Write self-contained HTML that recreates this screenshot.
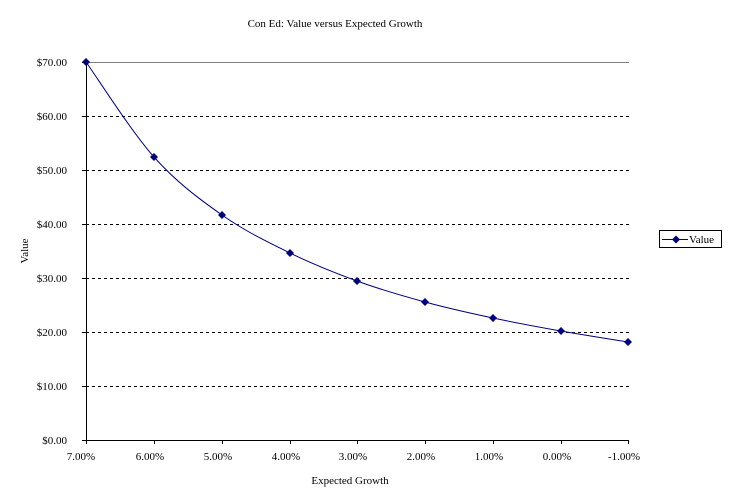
<!DOCTYPE html>
<html><head><style>body{margin:0;background:#fff}svg{display:block}text{font-family:"Liberation Serif",serif;font-size:11px;fill:#000}</style></head><body>
<svg width="731" height="500" xmlns="http://www.w3.org/2000/svg">
<text x="335" y="27" text-anchor="middle">Con Ed: Value versus Expected Growth</text>
<g stroke="#000" stroke-width="1" stroke-dasharray="3,3">
<line x1="86" y1="386.5" x2="629" y2="386.5"/><line x1="86" y1="332.5" x2="629" y2="332.5"/><line x1="86" y1="278.5" x2="629" y2="278.5"/><line x1="86" y1="224.5" x2="629" y2="224.5"/><line x1="86" y1="170.5" x2="629" y2="170.5"/><line x1="86" y1="116.5" x2="629" y2="116.5"/>
</g>
<line x1="86" y1="62.5" x2="629" y2="62.5" stroke="#808080"/>
<g stroke="#000" stroke-width="1">
<line x1="86.5" y1="62" x2="86.5" y2="440"/><line x1="82" y1="440.5" x2="629" y2="440.5"/>
<line x1="82" y1="62.5" x2="86" y2="62.5"/><line x1="82" y1="116.5" x2="86" y2="116.5"/><line x1="82" y1="170.5" x2="86" y2="170.5"/><line x1="82" y1="224.5" x2="86" y2="224.5"/><line x1="82" y1="278.5" x2="86" y2="278.5"/><line x1="82" y1="332.5" x2="86" y2="332.5"/><line x1="82" y1="386.5" x2="86" y2="386.5"/>
<line x1="86.5" y1="440" x2="86.5" y2="444"/><line x1="154.5" y1="440" x2="154.5" y2="444"/><line x1="222.5" y1="440" x2="222.5" y2="444"/><line x1="290.5" y1="440" x2="290.5" y2="444"/><line x1="357.5" y1="440" x2="357.5" y2="444"/><line x1="425.5" y1="440" x2="425.5" y2="444"/><line x1="493.5" y1="440" x2="493.5" y2="444"/><line x1="561.5" y1="440" x2="561.5" y2="444"/><line x1="628.5" y1="440" x2="628.5" y2="444"/>
</g>
<g text-anchor="end">
<text x="67" y="444">$0.00</text><text x="67" y="390">$10.00</text><text x="67" y="336">$20.00</text><text x="67" y="282">$30.00</text><text x="67" y="228">$40.00</text><text x="67" y="174">$50.00</text><text x="67" y="120">$60.00</text><text x="67" y="66">$70.00</text>
</g>
<g text-anchor="middle">
<text x="81" y="460">7.00%</text><text x="150" y="460">6.00%</text><text x="218" y="460">5.00%</text><text x="286" y="460">4.00%</text><text x="353" y="460">3.00%</text><text x="421" y="460">2.00%</text><text x="489" y="460">1.00%</text><text x="557" y="460">0.00%</text><text x="624" y="460">-1.00%</text>
<text x="350" y="484">Expected Growth</text>
</g>
<text transform="translate(28,251) rotate(-90)" text-anchor="middle">Value</text>
<path fill="none" stroke="#000080" stroke-width="1" d="M86 62C97.3 77.8 131.3 131.5 154 157C176.7 182.5 199.3 199 222 215C244.7 231 267.5 242 290 253C312.5 264 334.5 272.8 357 281C379.5 289.2 402.3 295.8 425 302C447.7 308.2 470.3 313.2 493 318C515.7 322.8 538.5 327 561 331C583.5 335 616.8 340.2 628 342"/>
<g fill="#000080">
<path d="M86 58l4 4-4 4-4-4z"/><path d="M154 153l4 4-4 4-4-4z"/><path d="M222 211l4 4-4 4-4-4z"/><path d="M290 249l4 4-4 4-4-4z"/><path d="M357 277l4 4-4 4-4-4z"/><path d="M425 298l4 4-4 4-4-4z"/><path d="M493 314l4 4-4 4-4-4z"/><path d="M561 327l4 4-4 4-4-4z"/><path d="M628 338l4 4-4 4-4-4z"/>
</g>
<rect x="659.5" y="230.5" width="62" height="17" fill="#fff" stroke="#000"/>
<line x1="662" y1="239.5" x2="688" y2="239.5" stroke="#000080"/>
<path d="M676 235.5l4 4-4 4-4-4z" fill="#000080"/>
<text x="689" y="243">Value</text>
</svg>
</body></html>
